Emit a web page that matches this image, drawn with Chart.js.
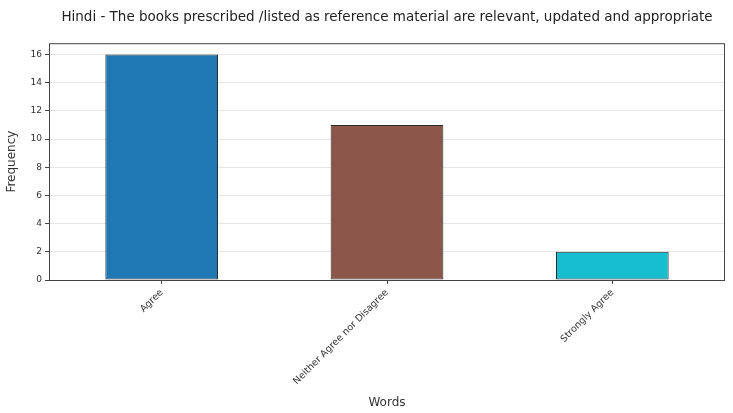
<!DOCTYPE html>
<html>
<head>
<meta charset="utf-8">
<script src="https://cdn.jsdelivr.net/npm/chart.js@4"></script>
<style>
  html, body { margin: 0; padding: 0; background: #ffffff; }
  #wrap { width: 733px; height: 413px; }
</style>
</head>
<body>
<div id="wrap"><canvas id="grafico" width="733" height="413"></canvas></div>
<script>
// dados
const categorias = ['Agree', 'Neither Agree nor Disagree', 'Strongly Agree'];
const frequencias = [16, 11, 2];
const cores = ['#1f77b4', '#8c564b', '#17becf'];
const ticksY = [0, 2, 4, 6, 8, 10, 12, 14, 16];

// moldura em volta da área do gráfico
const moldura = {
    id: 'moldura',
    afterDraw(chart) {
        const a = chart.chartArea;
        const ctx = chart.ctx;
        ctx.save();
        ctx.strokeStyle = '#444';
        ctx.lineWidth = 1;
        ctx.strokeRect(a.left + 0.5, a.top + 0.5, a.right - a.left - 1, a.bottom - a.top);
        ctx.restore();
    }
};

new Chart(document.getElementById('grafico'), {
    type: 'bar',
    data: {
        labels: categorias,
        datasets: [{
            data: frequencias,
            backgroundColor: cores,
            borderColor: '#2b2b2b',
            borderWidth: 1,
            borderSkipped: false,
            categoryPercentage: 1.0,
            barPercentage: 0.5
        }]
    },
    options: {
        responsive: false,
        animation: false,
        layout: { padding: { left: 0, right: 8, top: 0, bottom: 0 } },
        plugins: {
            legend: { display: false },
            tooltip: { enabled: false },
            title: {
                display: true,
                fullSize: false,
                text: 'Hindi - The books prescribed /listed as reference material are relevant, updated and appropriate',
                color: '#222',
                font: { family: 'DejaVu Sans', size: 13.5, weight: 'normal' },
                padding: { top: 9, bottom: 18 }
            }
        },
        scales: {
            x: {
                grid: { display: true, drawOnChartArea: false, offset: false, tickLength: 4, tickColor: '#444' },
                border: { display: false },
                ticks: {
                    minRotation: 45, maxRotation: 45,
                    color: '#333',
                    font: { family: 'DejaVu Sans', size: 9.5 }
                },
                title: {
                    display: true, text: 'Words', color: '#333',
                    font: { family: 'DejaVu Sans', size: 12 },
                    padding: { top: 0, bottom: 3 }
                },
                afterFit(scale) { scale.height = 133; }
            },
            y: {
                min: 0,
                max: 16.8,
                grid: { color: '#e6e6e6', lineWidth: 1, tickLength: 4, tickColor: '#444' },
                border: { display: false },
                ticks: {
                    stepSize: 2,
                    color: '#333',
                    padding: 3,
                    font: { family: 'DejaVu Sans', size: 9 }
                },
                afterBuildTicks(scale) {
                    scale.ticks = ticksY.map(v => ({ value: v }));
                },
                title: {
                    display: true, text: 'Frequency', color: '#333',
                    font: { family: 'DejaVu Sans', size: 12 },
                    padding: { top: 5, bottom: 0 }
                },
                afterFit(scale) { scale.width = 49; }
            }
        }
    },
    plugins: [moldura]
});
</script>
</body>
</html>
